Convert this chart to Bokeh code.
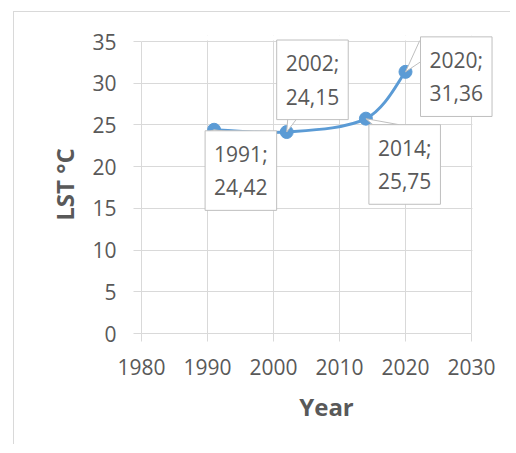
from bokeh.plotting import figure
from bokeh.models import Range1d, Label, SingleIntervalTicker, BoxAnnotation
from bokeh.embed import file_html
from bokeh.resources import INLINE

# ---- data ----
years = [1991, 2002, 2014, 2020]
lst = [24.42, 24.15, 25.75, 31.36]
x_min, x_max, x_step = 1980, 2030, 10
y_min, y_max, y_step = 0, 35, 5

# ---- layout (pixel offsets of callout boxes / pointers, style only) ----
box_offsets = [(-9, -1), (-10, 92), (3, -6), (15, 35)]
wedge_offsets = [((-5, -2), (14, -2)), ((2, 25), (19, 25)), ((7, -6), (33, -6)), ((15, 33), (15, 10))]

FONT = "Open Sans"
GRAY = "#595959"
GRID = "#d9d9d9"
BLUE = "#5B9BD5"

PX_X = 330 / (x_max - x_min)   # px per year
PX_Y = 292 / (y_max - y_min)   # px per unit
EXTRA_R, EXTRA_T = 40, 6       # room so that callout boxes are not clipped

p = figure(width=497, height=433, output_backend="svg", toolbar_location=None,
           x_range=Range1d(x_min, x_max + EXTRA_R / PX_X),
           y_range=Range1d(y_min, y_max + EXTRA_T / PX_Y),
           min_border_left=127, min_border_top=23, min_border_right=0, min_border_bottom=112)
p.styles = {"border-left": "1px solid #d9d9d9", "border-top": "1px solid #d9d9d9",
            "margin-left": "13px", "margin-top": "11px"}
p.outline_line_color = None
p.background_fill_color = "white"
p.border_fill_color = "white"

p.xaxis.ticker = SingleIntervalTicker(interval=x_step, num_minor_ticks=0)
p.yaxis.ticker = SingleIntervalTicker(interval=y_step, num_minor_ticks=0)
p.xaxis.bounds = (x_min, x_max)
p.yaxis.bounds = (y_min, y_max)
for ax in (p.xaxis[0], p.yaxis[0]):
    ax.axis_line_color = GRID
    ax.major_tick_line_color = GRID
    ax.major_tick_out = 8
    ax.major_tick_in = 0
    ax.minor_tick_line_color = None
    ax.major_label_text_font = FONT
    ax.major_label_text_font_size = "21px"
    ax.major_label_text_color = GRAY
    ax.axis_label_text_font = FONT
    ax.axis_label_text_font_size = "24px"
    ax.axis_label_text_font_style = "bold"
    ax.axis_label_text_color = GRAY
p.xaxis.axis_label = "Year"
p.yaxis.axis_label = "LST °C"
p.xaxis.major_label_standoff = 17
p.yaxis.major_label_standoff = 17
p.xaxis.axis_label_standoff = 12
p.yaxis.axis_label_standoff = 8
p.grid.grid_line_color = GRID
p.grid.grid_line_width = 1

# ---- smoothed line (Catmull-Rom style bezier through the data points) ----
n = len(years)
x0, y0, x1, y1, cx0, cy0, cx1, cy1 = [], [], [], [], [], [], [], []
for i in range(n - 1):
    pm = (years[max(i - 1, 0)], lst[max(i - 1, 0)])
    pa = (years[i], lst[i])
    pb = (years[i + 1], lst[i + 1])
    pn = (years[min(i + 2, n - 1)], lst[min(i + 2, n - 1)])
    x0.append(pa[0]); y0.append(pa[1]); x1.append(pb[0]); y1.append(pb[1])
    cx0.append(pa[0] + (pb[0] - pm[0]) / 6); cy0.append(pa[1] + (pb[1] - pm[1]) / 6)
    cx1.append(pb[0] - (pn[0] - pa[0]) / 6); cy1.append(pb[1] - (pn[1] - pa[1]) / 6)
p.bezier(x0=x0, y0=y0, x1=x1, y1=y1, cx0=cx0, cy0=cy0, cx1=cx1, cy1=cy1,
         line_color=BLUE, line_width=3)
p.scatter(years, lst, size=13, fill_color=BLUE, line_color=BLUE)

# ---- callout pointers ----
wx, wy = [], []
for (xv, yv), (a, b) in zip(zip(years, lst), wedge_offsets):
    wx.append([xv + a[0] / PX_X, xv, xv + b[0] / PX_X])
    wy.append([yv + a[1] / PX_Y, yv, yv + b[1] / PX_Y])
p.patches(wx, wy, fill_color="white", line_color="#bfbfbf", line_width=1)

# white masks hiding grid beyond the plotting area
p.add_layout(BoxAnnotation(left=x_max + 0.9 / PX_X, fill_color="white", fill_alpha=1,
                           line_color=None))
p.add_layout(BoxAnnotation(bottom=y_max + 0.9 / PX_Y, fill_color="white", fill_alpha=1,
                           line_color=None))

# ---- callout boxes ----
for xv, yv, (dx, dy) in zip(years, lst, box_offsets):
    txt = f"{xv};\n{yv:.2f}".replace(".", ",")
    p.add_layout(Label(x=xv, y=yv, x_offset=dx, y_offset=dy, text=txt,
                       text_font=FONT, text_font_size="21px", text_color=GRAY,
                       text_align="left", text_baseline="top", anchor="top_left",
                       background_fill_color="white", border_line_color="#bfbfbf",
                       border_line_width=1, padding=9, text_line_height=1.2))

open("out.html", "w").write(file_html(p, INLINE))
